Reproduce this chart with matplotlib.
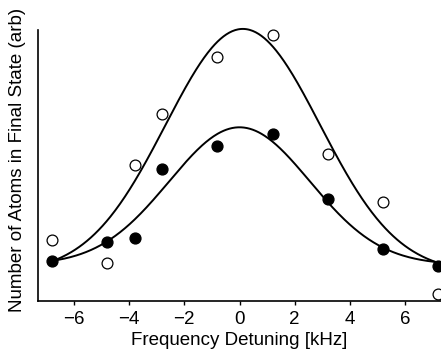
import matplotlib

matplotlib.use("Agg")
import matplotlib.pyplot as plt
import numpy as np

plt.rcParams["font.family"] = ["Liberation Sans", "DejaVu Sans"]

# measured points (detuning in kHz, atoms in arbitrary units)
detuning = [-6.8, -4.8, -3.8, -2.8, -0.8, 1.2, 3.2, 5.2, 7.2]
open_atoms = [61, 38, 135, 186, 243, 265, 146, 99, 7]
filled_atoms = [40, 59, 63, 131, 154, 166, 102, 52, 35]

# gaussian fit parameters: offset, amplitude, centre, sigma
open_fit = [28, 243, 0.12, 2.80]
filled_fit = [36, 137, 0.0, 2.55]

xticks = [-6, -4, -2, 0, 2, 4, 6]


def gauss(x, b, a, x0, s):
    return b + a * np.exp(-((x - x0) ** 2) / (2 * s**2))


fig = plt.figure(figsize=(4.41, 3.52), dpi=100)
ax = fig.add_axes([0.0862, 0.145, 0.9138, 0.770])

xs = np.linspace(-6.8, 7.3, 400)
ax.plot(xs, gauss(xs, *open_fit), color="black", lw=1.4, clip_on=False)
ax.plot(xs, gauss(xs, *filled_fit), color="black", lw=1.4, clip_on=False)

ax.plot(detuning, open_atoms, "o", ms=7.8, mfc="white", mec="black", mew=0.9, clip_on=False)
ax.plot(detuning, filled_atoms, "o", ms=7.8, mfc="black", mec="black", clip_on=False)

ax.set_xlim(-7.3, 7.3)
ax.set_ylim(0, 270)
ax.set_xticks(xticks, [f"\u2212{-t}" if t < 0 else str(t) for t in xticks])
ax.set_yticks([])
ax.tick_params(axis="x", direction="out", length=3, width=1, labelsize=13.5, pad=4)
for side in ("top", "right"):
    ax.spines[side].set_visible(False)
for side in ("left", "bottom"):
    ax.spines[side].set_linewidth(1.2)

ax.set_xlabel("Frequency Detuning [kHz]", fontsize=13.5, labelpad=3)
ax.set_ylabel("Number of Atoms in Final State (arb)", fontsize=13.5)
ax.yaxis.set_label_coords(-0.03, 0.52)

fig.savefig("out.png", dpi=100)
